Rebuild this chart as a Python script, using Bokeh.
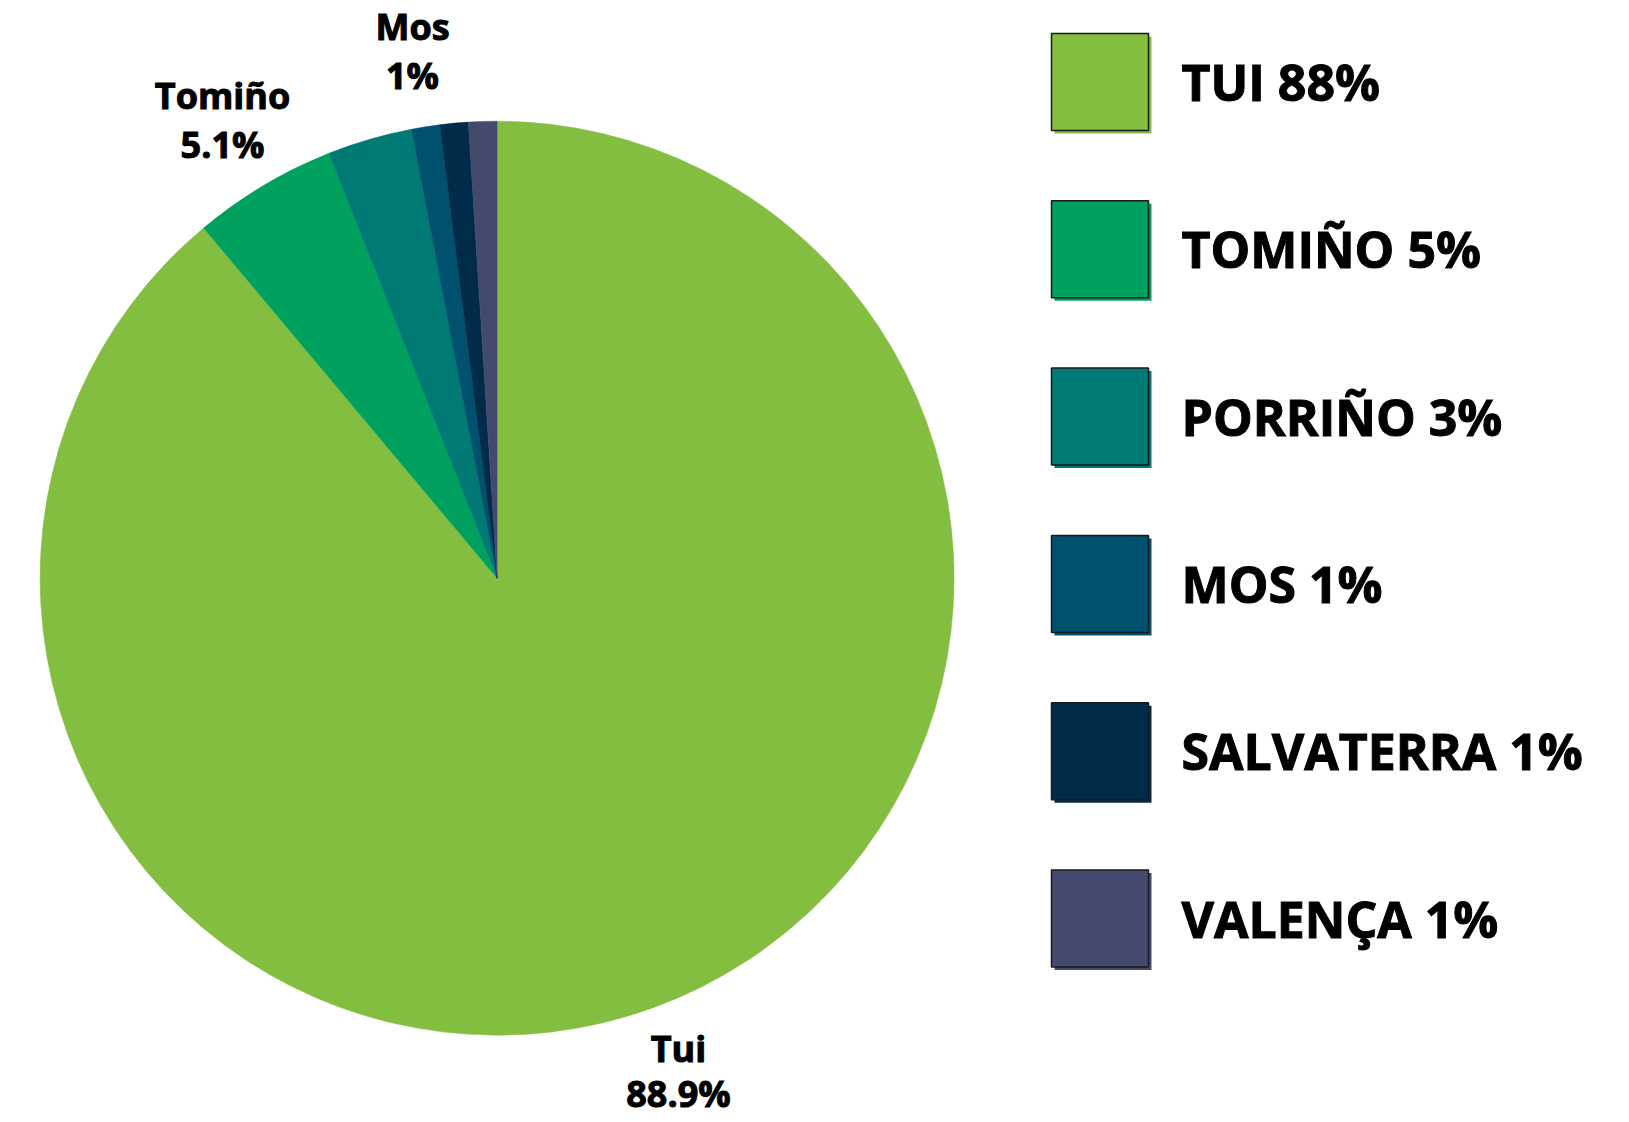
import numpy as np
from bokeh.plotting import figure
from bokeh.models import Range1d, ColumnDataSource
from bokeh.core.properties import value
from bokeh.embed import file_html
from bokeh.resources import INLINE

# ---- data ----
municipios = ["Tui", "Tomiño", "Porriño", "Mos", "Salvaterra", "Valença"]
shares = [88.9, 5.1, 3.0, 1.0, 1.0, 1.0]
colors = ["#84BE41", "#00A05E", "#007A74", "#00516E", "#002C4A", "#434A6E"]
legend_labels = ["TUI 88%", "TOMIÑO 5%", "PORRIÑO 3%", "MOS  1%", "SALVATERRA 1%", "VALENÇA 1%"]
pie_label_names = ["Tomiño", "Mos", "Tui"]
pie_label_values = ["5.1%", "1%", "88.9%"]

W, H = 1629, 1122
REF_H = 1122

def Y(ref_y):
    return REF_H - ref_y

p = figure(width=W, height=H, output_backend="svg", toolbar_location=None,
           x_range=Range1d(0, W), y_range=Range1d(Y(H), Y(0)),
           min_border=0, outline_line_color=None)
p.axis.visible = False
p.grid.visible = False
p.background_fill_color = "white"
p.border_fill_color = "white"

# ---- pie ----
cx, cy, r = 496.6, Y(577.7), 457
vals = np.array(shares, dtype=float)
frac = vals / vals.sum()
cum = np.concatenate([[0.0], np.cumsum(frac)])
start = np.pi / 2 - 2 * np.pi * cum[:-1]
end = np.pi / 2 - 2 * np.pi * cum[1:]
src = ColumnDataSource(dict(start=start, end=end, color=colors,
                            x=[cx] * len(vals), y=[cy] * len(vals)))
p.wedge(x="x", y="y", radius=r, radius_units="screen", start_angle="start",
        end_angle="end", direction="clock", fill_color="color",
        line_color="color", line_width=0.5, source=src)

# ---- pie labels ----
txt = dict(text_font=value("Open Sans"), text_font_style="bold",
           text_color="black", text_outline_color="black")
lab_x = [222, 412, 678]
lab_y1 = [95, 26, 1048]
lab_y2 = [144, 75, 1093]
p.text(x=lab_x, y=[Y(v) for v in lab_y1], text=pie_label_names,
       text_font_size="36px", text_align="center", text_baseline="middle", **txt)
p.text(x=lab_x, y=[Y(v) for v in lab_y2], text=pie_label_values,
       text_font_size="36px", text_align="center", text_baseline="middle", **txt)

# ---- legend ----
n = len(legend_labels)
row_y = np.array([81.5 + 167.3 * i for i in range(n)])
left, right, half = 1051, 1148, 48.5
# shadows
p.quad(left=[left + 3] * n, right=[right + 3] * n,
       top=[Y(v - half + 3) for v in row_y], bottom=[Y(v + half + 3) for v in row_y],
       fill_color=colors, line_color=None)
p.quad(left=[left] * n, right=[right] * n,
       top=[Y(v - half) for v in row_y], bottom=[Y(v + half) for v in row_y],
       fill_color=colors, line_color="#1a1a1a", line_width=1.5)
p.text(x=[1181] * n, y=[Y(v) for v in row_y], text=legend_labels,
       text_font_size="50px", text_align="left", text_baseline="middle", **txt)

open("out.html", "w").write(file_html(p, INLINE))
